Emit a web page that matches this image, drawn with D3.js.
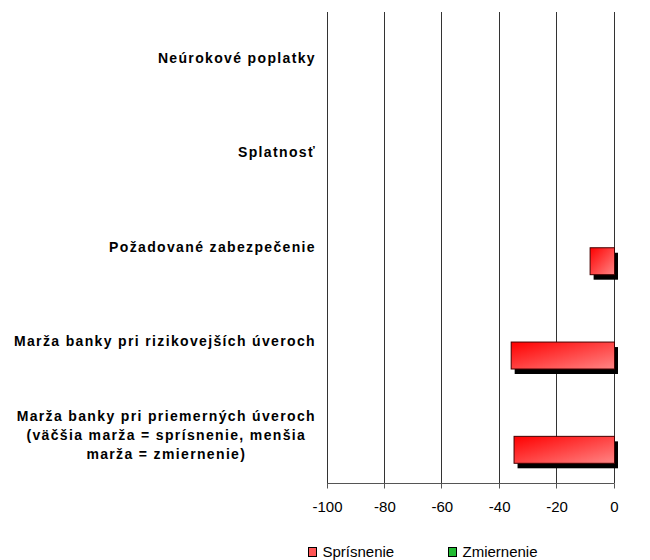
<!DOCTYPE html>
<html>
<head>
<meta charset="utf-8">
<script src="https://cdn.jsdelivr.net/npm/d3@7"></script>
<style>
  body { margin: 0; background: #fff; }
  text { font-family: "Liberation Sans", Arial, sans-serif; fill: #000; }
</style>
</head>
<body>
<script>
var width = 650,
    height = 560;

// data, top to bottom
var categories = [
  "Neúrokové poplatky",
  "Splatnosť",
  "Požadované zabezpečenie",
  "Marža banky pri rizikovejších úveroch",
  "Marža banky pri priemerných úveroch (väčšia marža = sprísnenie, menšia marža = zmiernenie)"
];
var labelLines = [
  ["Neúrokové poplatky"],
  ["Splatnosť"],
  ["Požadované zabezpečenie"],
  ["Marža banky pri rizikovejších úveroch"],
  ["Marža banky pri priemerných úveroch", "(väčšia marža = sprísnenie, menšia", "marža = zmiernenie)"]
];
var sprisnenie = [0, 0, -8.5, -36, -35];
var zmiernenie = [0, 0, 0, 0, 0];
var seriesNames = ["Sprísnenie", "Zmiernenie"];
var xTicks = [-100, -80, -60, -40, -20, 0];

var x = d3.scaleLinear()
    .domain([-100, 0])
    .range([327.5, 614.5]);

var y = d3.scaleBand()
    .domain(categories)
    .range([12, 483.5]);

// Excel draws the first series at the bottom of each cluster
var inner = d3.scaleBand()
    .domain(["Zmiernenie", "Sprísnenie"])
    .range([0, y.bandwidth()])
    .paddingOuter(0.75);

var svg = d3.select("body")
  .append("svg")
    .attr("width", width)
    .attr("height", height);

var defs = svg.append("defs");
var grad = defs.append("linearGradient")
    .attr("id", "redGrad")
    .attr("x1", "0%").attr("y1", "0%")
    .attr("x2", "100%").attr("y2", "100%");
grad.append("stop").attr("offset", "0%").attr("stop-color", "#ff0000");
grad.append("stop").attr("offset", "100%").attr("stop-color", "#ff8585");

var gradG = defs.append("linearGradient")
    .attr("id", "greenGrad")
    .attr("x1", "0%").attr("y1", "0%")
    .attr("x2", "100%").attr("y2", "100%");
gradG.append("stop").attr("offset", "0%").attr("stop-color", "#00b000");
gradG.append("stop").attr("offset", "100%").attr("stop-color", "#66dd66");

// gridlines
svg.selectAll(".grid")
  .data(xTicks)
  .enter()
  .append("line")
    .attr("class", "grid")
    .attr("x1", function(d) { return Math.round(x(d)) - 0.5; })
    .attr("x2", function(d) { return Math.round(x(d)) - 0.5; })
    .attr("y1", 12)
    .attr("y2", 483.5)
    .attr("stroke", "#333")
    .attr("stroke-width", 1);

// bottom axis
var axisG = svg.append("g")
    .attr("transform", "translate(0,483.5)");
axisG.append("line")
    .attr("x1", x(-100) - 0.5)
    .attr("x2", x(0) - 0.5)
    .attr("stroke", "#555");
axisG.selectAll(".tick")
  .data(xTicks)
  .enter()
  .append("line")
    .attr("x1", function(d) { return Math.round(x(d)) - 0.5; })
    .attr("x2", function(d) { return Math.round(x(d)) - 0.5; })
    .attr("y1", 0)
    .attr("y2", 5)
    .attr("stroke", "#555");
axisG.selectAll(".tl")
  .data(xTicks)
  .enter()
  .append("text")
    .attr("x", function(d) { return x(d); })
    .attr("y", 28)
    .attr("text-anchor", "middle")
    .style("font-size", "15px")
    .text(function(d) { return d; });

// bars
function drawSeries(values, name, fill) {
  var g = svg.append("g");
  var data = values.map(function(v, i) { return { c: categories[i], v: v }; })
      .filter(function(d) { return d.v !== 0; });

  g.selectAll(".shadow")
    .data(data)
    .enter()
    .append("rect")
      .attr("x", function(d) { return x(Math.min(0, d.v)) + 3.5; })
      .attr("y", function(d) { return y(d.c) + inner(name) + 5; })
      .attr("width", function(d) { return Math.abs(x(d.v) - x(0)); })
      .attr("height", inner.bandwidth())
      .attr("fill", "#000");

  g.selectAll(".bar")
    .data(data)
    .enter()
    .append("rect")
      .attr("x", function(d) { return x(Math.min(0, d.v)); })
      .attr("y", function(d) { return y(d.c) + inner(name); })
      .attr("width", function(d) { return Math.abs(x(d.v) - x(0)); })
      .attr("height", inner.bandwidth())
      .attr("fill", fill)
      .attr("stroke", "#400")
      .attr("stroke-width", 1);
}
drawSeries(sprisnenie, "Sprísnenie", "url(#redGrad)");
drawSeries(zmiernenie, "Zmiernenie", "url(#greenGrad)");

// category labels
var lineH = 19;
labelLines.forEach(function(lines, i) {
  var cy = y(categories[i]) + y.bandwidth() / 2;
  var t = svg.append("text")
      .style("font-size", "14px")
      .style("font-weight", "bold")
      .style("letter-spacing", "1.35px");
  lines.forEach(function(l, j) {
    t.append("tspan")
      .attr("y", cy + (j - (lines.length - 1) / 2) * lineH + 4)
      .text(l);
  });
  // right edge of the widest line at 316, lines centered
  var widths = [];
  t.selectAll("tspan").each(function() { widths.push(this.getComputedTextLength()); });
  var maxW = d3.max(widths);
  var center = 316 - maxW / 2;
  t.selectAll("tspan")
    .attr("x", center)
    .attr("text-anchor", "middle");
});

// legend
var legend = svg.append("g");
var legendItems = [
  { name: seriesNames[0], fill: "#ff5555", x: 308.5 },
  { name: seriesNames[1], fill: "#22bb33", x: 448.5 }
];
legend.selectAll("rect")
  .data(legendItems)
  .enter()
  .append("rect")
    .attr("x", function(d) { return d.x; })
    .attr("y", 547.5)
    .attr("width", 8)
    .attr("height", 9)
    .attr("fill", function(d) { return d.fill; })
    .attr("stroke", "#000");
legend.selectAll("text")
  .data(legendItems)
  .enter()
  .append("text")
    .attr("x", function(d) { return d.x + 14; })
    .attr("y", 557)
    .style("font-size", "15px")
    .text(function(d) { return d.name; });
</script>
</body>
</html>
